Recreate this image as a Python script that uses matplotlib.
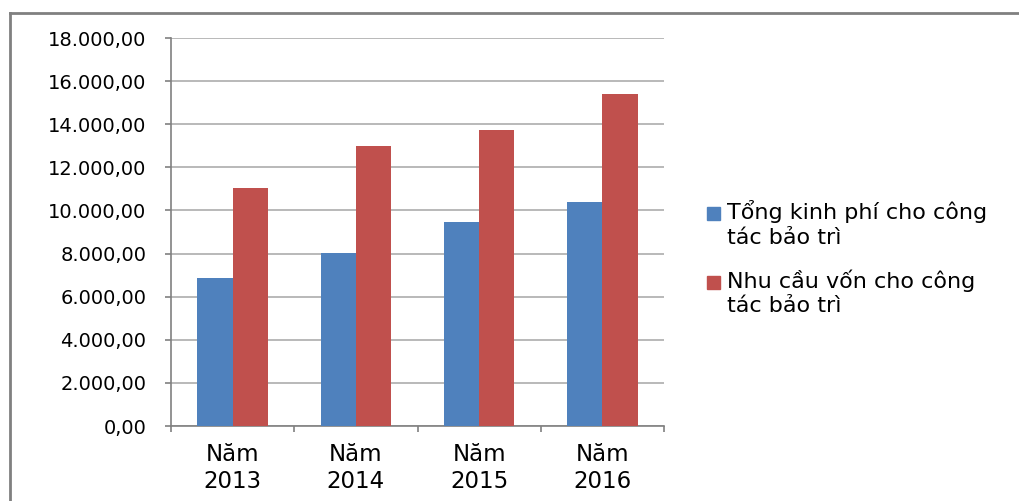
import numpy as np
import matplotlib
matplotlib.use("Agg")
import matplotlib.pyplot as plt
from matplotlib.patches import Rectangle
from matplotlib.lines import Line2D

# Daten
years = ["Năm\n2013", "Năm\n2014", "Năm\n2015", "Năm\n2016"]
tong_kinh_phi = [6850, 8010, 9450, 10380]
nhu_cau_von = [11030, 12990, 13750, 15410]
series_names = ["Tổng kinh phí cho công\ntác bảo trì",
                "Nhu cầu vốn cho công\ntác bảo trì"]
colors = ["#4F81BD", "#C0504D"]

plt.rcParams['font.family'] = ['DejaVu Sans']

fig = plt.figure(figsize=(10.2, 5.01), dpi=100)
ax = fig.add_axes([171 / 1020, 1 - 426 / 501, (664 - 171) / 1020, (426 - 38) / 501])

x = np.arange(len(years))
w = 1 / 3.5
ax.bar(x - w / 2, tong_kinh_phi, w, color=colors[0], zorder=3)
ax.bar(x + w / 2, nhu_cau_von, w, color=colors[1], zorder=3)

ax.set_xlim(-0.5, len(years) - 0.5)
ax.set_ylim(0, 18000)
ax.set_yticks(np.arange(0, 18001, 2000))
ax.set_yticklabels([f"{v:,.0f}".replace(",", ".") + ",00" for v in np.arange(0, 18001, 2000)])
ax.yaxis.grid(True, color="#b3b3b3", linewidth=1.3, zorder=0)

# Kategorie-Grenzen als Ticks, Beschriftung in der Mitte
ax.set_xticks(np.arange(-0.5, len(years) + 0.5, 1))
ax.set_xticklabels([])
ax.set_xticks(x, minor=True)
ax.set_xticklabels(years, minor=True, fontsize=16.5, linespacing=1.25)
ax.tick_params(axis="x", which="minor", length=0, pad=12)
ax.tick_params(axis="x", which="major", length=4.3, color="#808080", width=1.2)
ax.tick_params(axis="y", length=4.3, color="#808080", width=1.2, labelsize=14, pad=13.5)

for s in ["top", "right"]:
    ax.spines[s].set_visible(False)
for s in ["left", "bottom"]:
    ax.spines[s].set_color("#808080")
    ax.spines[s].set_linewidth(1.2)

# Legende
leg_y = [213, 282]
for i, name in enumerate(series_names):
    y0 = 1 - leg_y[i] / 501
    fig.patches.append(Rectangle((707 / 1020, y0 - 6.5 / 501), 13 / 1020, 13 / 501,
                                 transform=fig.transFigure, color=colors[i]))
    fig.text(727 / 1020, y0 + 13 / 501, name, fontsize=16, va="top", ha="left",
             linespacing=1.3)

# Rahmen
fig.add_artist(Line2D([10 / 1020, 10 / 1020], [0, 1 - 13 / 501], transform=fig.transFigure,
                      color="#808080", linewidth=2))
fig.add_artist(Line2D([10 / 1020, 1], [1 - 13 / 501, 1 - 13 / 501], transform=fig.transFigure,
                      color="#808080", linewidth=2))

fig.savefig("out.png", dpi=100)
